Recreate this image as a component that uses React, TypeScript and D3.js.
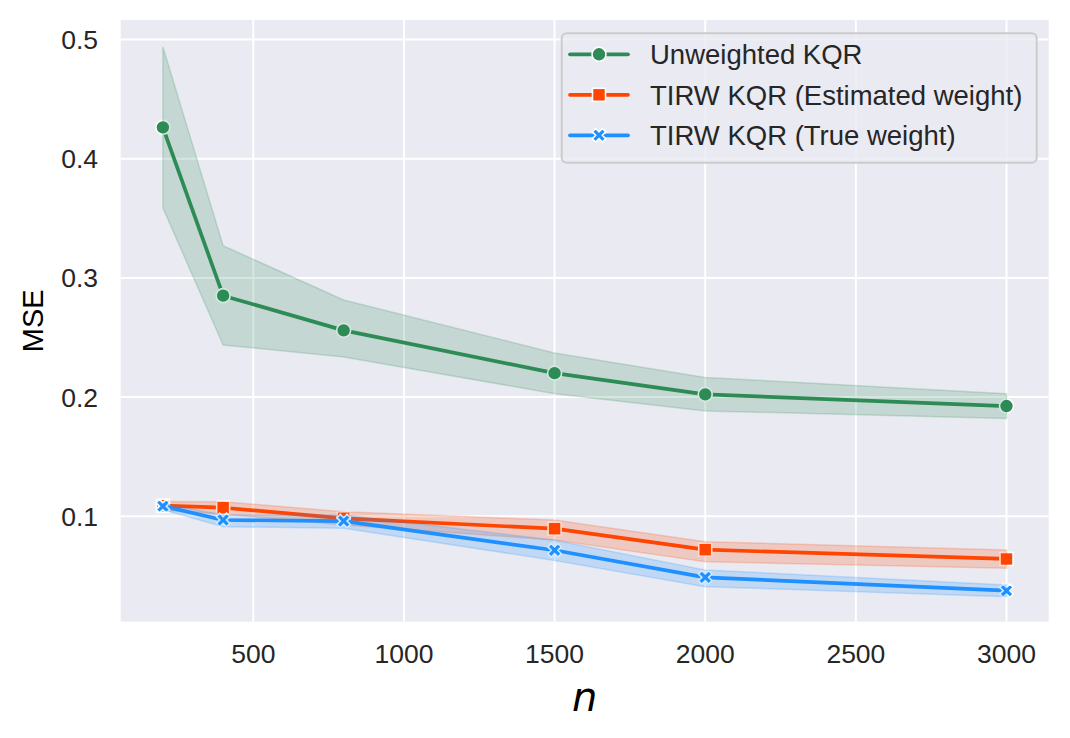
import React from "react";
import * as d3 from "d3";

const nValues = [200, 400, 800, 1500, 2000, 3000];
const unweighted = [0.4263, 0.2851, 0.256, 0.2201, 0.2023, 0.1925];
const unweightedLo = [0.3587, 0.2437, 0.2337, 0.2029, 0.1884, 0.182];
const unweightedHi = [0.494, 0.327, 0.2815, 0.237, 0.2165, 0.2029];
const estimated = [0.1089, 0.1072, 0.0983, 0.0896, 0.072, 0.0642];
const estimatedLo = [0.105, 0.102, 0.0927, 0.0801, 0.0619, 0.0564];
const estimatedHi = [0.1125, 0.1122, 0.1039, 0.0969, 0.0787, 0.0718];
const trueW = [0.1085, 0.0969, 0.096, 0.0715, 0.0488, 0.0376];
const trueWLo = [0.1055, 0.0913, 0.0899, 0.063, 0.041, 0.0326];
const trueWHi = [0.111, 0.101, 0.101, 0.08, 0.055, 0.0424];
const xTicks = [500, 1000, 1500, 2000, 2500, 3000];
const yTicks = [0.1, 0.2, 0.3, 0.4, 0.5];

const seriesList = [
  { name: "Unweighted KQR", color: "#2e8b57", marker: "o", mid: unweighted, lo: unweightedLo, hi: unweightedHi },
  { name: "TIRW KQR (Estimated weight)", color: "#ff4500", marker: "s", mid: estimated, lo: estimatedLo, hi: estimatedHi },
  { name: "TIRW KQR (True weight)", color: "#1e90ff", marker: "X", mid: trueW, lo: trueWLo, hi: trueWHi },
];

const W = 1070;
const H = 738;
const left = 120.7;
const right = 1048.7;
const top = 20;
const bottom = 621.7;
const FONT = "'Liberation Sans', Arial, sans-serif";
const TXT = "#262626";

const xPts = [[-1, -2], [0, -1], [1, -2], [2, -1], [1, 0], [2, 1], [1, 2], [0, 1], [-1, 2], [-2, 1], [-1, 0], [-2, -1]];

function Marker({ type, x, y, color }: { type: string; x: number; y: number; color: string }) {
  const sw = 1.6;
  if (type === "o") {
    return <circle cx={x} cy={y} r={7} fill={color} stroke="#fff" strokeWidth={sw} />;
  }
  if (type === "s") {
    const s = 13;
    return <rect x={x - s / 2} y={y - s / 2} width={s} height={s} fill={color} stroke="#fff" strokeWidth={sw} />;
  }
  const s = 13.5;
  const pts = xPts.map((p) => `${x + (p[0] / 4) * s},${y + (p[1] / 4) * s}`).join(" ");
  return <polygon points={pts} fill={color} stroke="#fff" strokeWidth={sw} strokeLinejoin="miter" />;
}

export default function App() {
  const xScale = d3.scaleLinear().domain([60, 3140]).range([left, right]);
  const yScale = d3.scaleLinear().domain([0.1, 0.5]).range([516.3, 39.5]);

  const line = d3
    .line<number>()
    .x((_, i) => xScale(nValues[i]))
    .y((d) => yScale(d));

  return (
    <svg width={W} height={H} style={{ display: "block", position: "absolute", left: 0, top: 0 }}>
      <rect x={0} y={0} width={W} height={H} fill="#ffffff" />
      <rect x={left} y={top} width={right - left} height={bottom - top} fill="#eaeaf2" />
      {xTicks.map((t) => (
        <line key={"gx" + t} x1={xScale(t)} x2={xScale(t)} y1={top} y2={bottom} stroke="#fff" strokeWidth={2} />
      ))}
      {yTicks.map((t) => (
        <line key={"gy" + t} x1={left} x2={right} y1={yScale(t)} y2={yScale(t)} stroke="#fff" strokeWidth={2} />
      ))}
      {seriesList.map((s) => {
        const area = d3
          .area<number>()
          .x((_, i) => xScale(nValues[i]))
          .y0((_, i) => yScale(s.lo[i]))
          .y1((_, i) => yScale(s.hi[i]));
        return (
          <g key={s.name}>
            <path d={line(s.mid) || ""} fill="none" stroke={s.color} strokeWidth={3.7} strokeLinejoin="round" strokeLinecap="round" />
            {s.mid.map((v, i) => (
              <Marker key={i} type={s.marker} x={xScale(nValues[i])} y={yScale(v)} color={s.color} />
            ))}
            <path d={area(s.mid) || ""} fill={s.color} fillOpacity={0.2} stroke={s.color} strokeOpacity={0.2} strokeWidth={1.5} />
          </g>
        );
      })}
      {xTicks.map((t) => (
        <text key={"tx" + t} x={xScale(t)} y={663} textAnchor="middle" fontFamily={FONT} fontSize={26.5} fill={TXT}>
          {t}
        </text>
      ))}
      {yTicks.map((t) => (
        <text key={"ty" + t} x={98} y={yScale(t) + 9.5} textAnchor="end" fontFamily={FONT} fontSize={26.5} fill={TXT}>
          {t.toFixed(1)}
        </text>
      ))}
      <text x={(left + right) / 2} y={711} textAnchor="middle" fontFamily="'DejaVu Sans', sans-serif" fontStyle="italic" fontSize={40} fill="#000">
        n
      </text>
      <text transform={`translate(43, ${(top + bottom) / 2}) rotate(-90)`} textAnchor="middle" fontFamily={FONT} fontSize={29} fill="#000">
        MSE
      </text>
      <g>
        <rect x={561.7} y={33.3} width={475} height={129.4} rx={5} fill="#eaeaf2" fillOpacity={0.8} stroke="#cccccc" strokeWidth={2} />
        {seriesList.map((s, i) => {
          const cy = 54.3 + i * 40.5;
          return (
            <g key={"lg" + s.name}>
              <line x1={570} x2={628} y1={cy} y2={cy} stroke={s.color} strokeWidth={3.7} strokeLinecap="round" />
              <Marker type={s.marker} x={599} y={cy} color={s.color} />
              <text x={650} y={cy + 9.8} fontFamily={FONT} fontSize={27.5} fill={TXT}>
                {s.name}
              </text>
            </g>
          );
        })}
      </g>
    </svg>
  );
}
